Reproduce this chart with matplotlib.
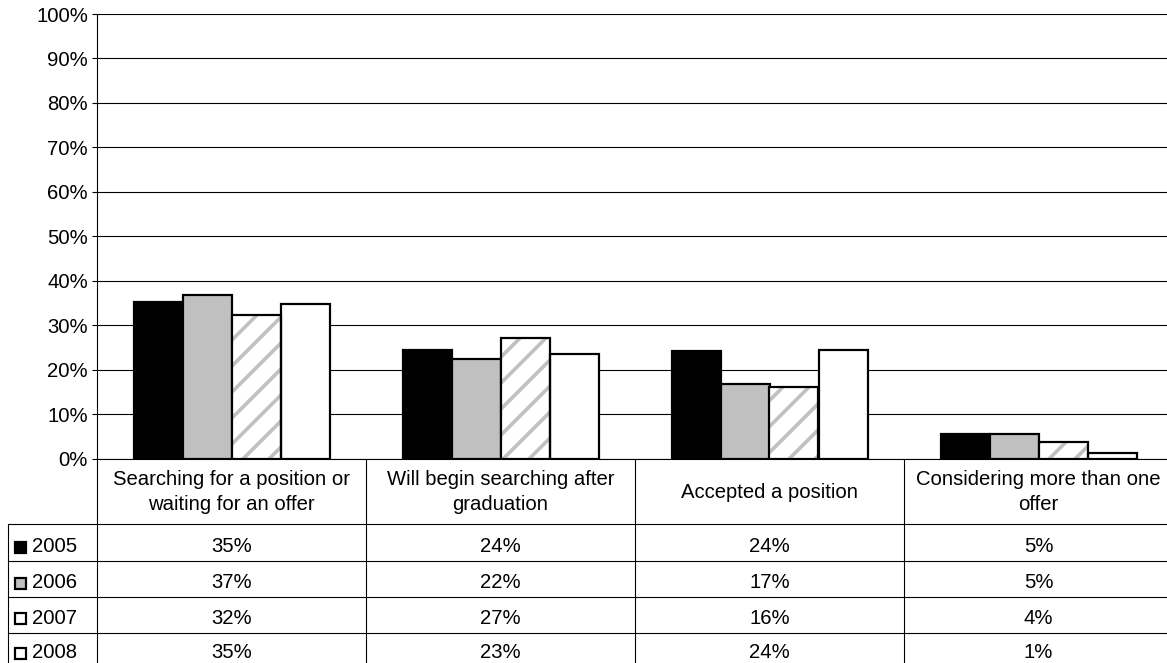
import matplotlib
matplotlib.use("Agg")
import matplotlib.pyplot as plt
import matplotlib.transforms as mtransforms
from matplotlib.patches import Rectangle
from matplotlib.ticker import PercentFormatter
import numpy as np

DPI = 78
def pt(px):
    return px * 72 / DPI

plt.rcParams['font.family'] = ['Liberation Sans', 'DejaVu Sans']
plt.rcParams['hatch.linewidth'] = pt(3.6)

categories = ["Searching for a position or\nwaiting for an offer",
              "Will begin searching after\ngraduation",
              "Accepted a position",
              "Considering more than one\noffer"]
years = ["2005", "2006", "2007", "2008"]
v2005 = [35.1, 24.3, 24.2, 5.4]
v2006 = [36.7, 22.4, 16.8, 5.4]
v2007 = [32.2, 27.0, 16.0, 3.7]
v2008 = [34.8, 23.4, 24.4, 1.3]
series = [v2005, v2006, v2007, v2008]

styles = [dict(color='black', hatch=None),
          dict(color='#c0c0c0', hatch=None),
          dict(color='white', hatch='/'),
          dict(color='white', hatch=None)]

FS = pt(20.2)
EDGE = pt(2.2)
THIN = pt(1.1)

W, H = 1167, 663
fig = plt.figure(figsize=(W / DPI, H / DPI), dpi=DPI)

def fy(py):
    return 1 - py / H

def fx(px):
    return px / W

y0_px, y100_px = 458.5, 14
left_px, right_px = 97, 1173
ax = fig.add_axes([fx(left_px), fy(y0_px), (right_px - left_px) / W, (y0_px - y100_px) / H])

x = np.arange(len(categories))
w = 49 / 269
offs = [-1.5, -0.5, 0.5, 1.5]
for i, vals in enumerate(series):
    st = styles[i]
    if st['hatch']:
        ax.bar(x + offs[i] * w, vals, w, facecolor='white', edgecolor='#c0c0c0',
               linewidth=0, hatch=st['hatch'], zorder=3)
        ax.bar(x + offs[i] * w, vals, w, fill=False, edgecolor='black',
               linewidth=EDGE, zorder=4)
    else:
        ax.bar(x + offs[i] * w, vals, w, color=st['color'], edgecolor='black',
               linewidth=EDGE, zorder=3)

ax.set_xlim(-0.5, len(categories) - 0.5)
ax.set_ylim(0, 100)
ax.set_yticks(np.arange(0, 101, 10))
ax.yaxis.set_major_formatter(PercentFormatter(decimals=0))
ax.tick_params(axis='y', direction='out', length=pt(5), width=THIN, color='black',
               labelsize=FS, pad=pt(4))
ax.set_xticks([])
ax.yaxis.grid(True, color='black', linewidth=THIN)
ax.set_axisbelow(True)
for s in ['top', 'right']:
    ax.spines[s].set_visible(False)
for s in ['left', 'bottom']:
    ax.spines[s].set_linewidth(THIN)
    ax.spines[s].set_color('black')

trans = mtransforms.blended_transform_factory(ax.transData, fig.transFigure)

# table lines
row_lines_px = [524, 561, 597, 633]
for py in row_lines_px:
    fig.add_artist(plt.Line2D([fx(8), fx(right_px)], [fy(py), fy(py)],
                              transform=fig.transFigure, color='black', lw=THIN))
for k in range(len(categories) + 1):
    ax.plot([k - 0.5, k - 0.5], [fy(y0_px), 0], transform=trans, color='black',
            lw=THIN, clip_on=False)
fig.add_artist(plt.Line2D([fx(8), fx(8)], [fy(524), 0],
                          transform=fig.transFigure, color='black', lw=THIN))

# header
for i, c in enumerate(categories):
    ax.text(i, fy(492), c, transform=trans, ha='center', va='center',
            fontsize=FS, linespacing=1.4)

# rows
row_centers = [547, 583, 618, 653]
KS = 11
for r, (yr, vals) in enumerate(zip(years, series)):
    yc = fy(row_centers[r])
    for i, v in enumerate(vals):
        ax.text(i, yc, f"{v:.0f}%", transform=trans, ha='center', va='center',
                fontsize=FS)
    st = styles[r]
    kx, ky = fx(15), yc - (KS / 2) / H
    if st['hatch']:
        fig.add_artist(Rectangle((kx, ky), KS / W, KS / H,
                                 transform=fig.transFigure, facecolor='white',
                                 edgecolor='#c0c0c0', lw=0, hatch='/'))
        fig.add_artist(Rectangle((kx, ky), KS / W, KS / H,
                                 transform=fig.transFigure, fill=False,
                                 edgecolor='black', lw=EDGE))
    else:
        fig.add_artist(Rectangle((kx, ky), KS / W, KS / H,
                                 transform=fig.transFigure, facecolor=st['color'],
                                 edgecolor='black', lw=EDGE))
    fig.text(fx(32), yc, yr, ha='left', va='center', fontsize=FS)

fig.savefig("out.png", dpi=DPI)
